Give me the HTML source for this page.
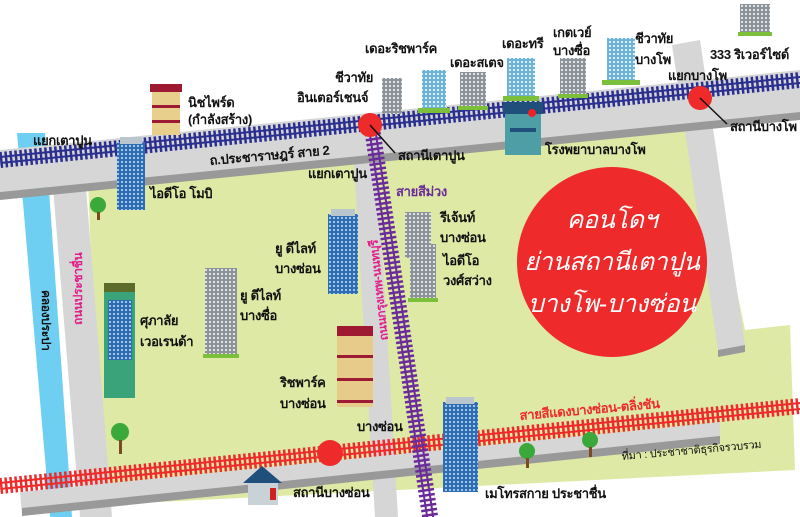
<!DOCTYPE html>
<html><head><meta charset="utf-8">
<style>
html,body{margin:0;padding:0;background:#fff}
svg{display:block}
text{font-family:"Liberation Sans",sans-serif;font-size:13px;fill:#111;font-weight:bold;letter-spacing:-0.3px}
</style></head><body>
<svg width="800" height="517" viewBox="0 0 800 517" xmlns="http://www.w3.org/2000/svg">
<defs>
<pattern id="tb" width="5" height="16" patternUnits="userSpaceOnUse"><rect x="0" y="0" width="2.5" height="16" fill="#2b2f8f"/></pattern>
<pattern id="tr" width="5" height="16" patternUnits="userSpaceOnUse"><rect x="0" y="0" width="2.5" height="16" fill="#ee2a2a"/></pattern>
<pattern id="tp" width="5" height="16" patternUnits="userSpaceOnUse"><rect x="0" y="0" width="2.5" height="16" fill="#6b2c9a"/></pattern>
<pattern id="win" width="4" height="4" patternUnits="userSpaceOnUse"><rect width="4" height="4" fill="#2f6db0"/><rect x="1" y="1" width="2" height="2" fill="#9cc6ee"/></pattern>
<pattern id="wing" width="4" height="4" patternUnits="userSpaceOnUse"><rect width="4" height="4" fill="#8d9499"/><rect x="1" y="1" width="2" height="2" fill="#dfe3e6"/></pattern>
<pattern id="winl" width="4" height="4" patternUnits="userSpaceOnUse"><rect width="4" height="4" fill="#6fb3d8"/><rect x="1" y="1" width="2" height="2" fill="#d7effa"/></pattern>
</defs>

<polygon points="88,178 700,113 745,330 790,325 795,470 100,505" fill="#dde9a4"/>
<polygon points="17,133 45,133 72,517 50,517" fill="#6ecff3"/>
<polygon points="52,175 85,175 112,517 80,517" fill="#d6d6d6"/>
<polygon points="352,130 375,130 398,517 375,517" fill="#d6d6d6"/>
<polygon points="672,45 700,40 745,345 718,350" fill="#d6d6d6"/>
<polygon points="718,350 745,345 745,352 718,357" fill="#9a9a9a"/>
<polygon points="0,150 800,70 800,112 0,192" fill="#d6d6d6"/>
<polygon points="0,192 800,112 800,120 0,200" fill="#999"/>
<polygon points="20,492 720,422 720,442 22,514" fill="#d6d6d6"/>
<polygon points="22,508 720,436 720,444 22,516" fill="#999"/>

<g transform="translate(0,160) rotate(-5.71)">
<rect x="0" y="-8" width="810" height="16" fill="url(#tb)"/>
<rect x="0" y="-4" width="810" height="2" fill="#2b2f8f"/><rect x="0" y="2" width="810" height="2" fill="#2b2f8f"/>
</g>
<g transform="translate(0,486) rotate(-5.71)">
<rect x="0" y="-8" width="810" height="16" fill="url(#tr)"/>
<rect x="0" y="-4" width="810" height="2" fill="#ee2a2a"/><rect x="0" y="2" width="810" height="2" fill="#ee2a2a"/>
</g>
<g transform="translate(372,128) rotate(81.5)">
<rect x="0" y="-8" width="395" height="16" fill="url(#tp)"/>
<rect x="0" y="-4" width="395" height="2" fill="#6b2c9a"/><rect x="0" y="2" width="395" height="2" fill="#6b2c9a"/>
</g>

<circle cx="370" cy="125" r="12" fill="#ee2a2a"/>
<line x1="370" y1="125" x2="395" y2="153" stroke="#111" stroke-width="1.5"/>
<circle cx="700" cy="98" r="12" fill="#ee2a2a"/>
<line x1="700" y1="98" x2="727" y2="124" stroke="#111" stroke-width="1.5"/>
<circle cx="330" cy="453" r="13" fill="#ee2a2a"/>

<circle cx="612" cy="262" r="95" fill="#ee2a2a"/>
<text x="612" y="228" text-anchor="middle" style="font-size:25px;fill:#fff;font-style:italic;font-weight:normal">คอนโดฯ</text>
<text x="612" y="270" text-anchor="middle" style="font-size:25px;fill:#fff;font-style:italic;font-weight:normal">ย่านสถานีเตาปูน</text>
<text x="612" y="312" text-anchor="middle" style="font-size:25px;fill:#fff;font-style:italic;font-weight:normal">บางโพ-บางซ่อน</text>

<g>
<rect x="740" y="4" width="30" height="30" fill="url(#wing)"/><rect x="738" y="32" width="34" height="4" fill="#7cbf3a"/>
<rect x="560" y="58" width="26" height="38" fill="url(#wing)"/><rect x="558" y="94" width="30" height="4" fill="#7cbf3a"/>
<rect x="460" y="72" width="26" height="36" fill="url(#wing)"/><rect x="458" y="106" width="30" height="4" fill="#7cbf3a"/>
<rect x="382" y="78" width="20" height="36" fill="url(#wing)"/>
<rect x="405" y="212" width="26" height="46" fill="url(#wing)"/>
<rect x="410" y="244" width="26" height="56" fill="url(#wing)"/><rect x="408" y="298" width="30" height="4" fill="#7cbf3a"/>
<rect x="205" y="268" width="32" height="88" fill="url(#wing)"/><rect x="203" y="354" width="36" height="4" fill="#7cbf3a"/>
</g>
<g>
<rect x="607" y="38" width="28" height="45" fill="url(#winl)"/><rect x="602" y="80" width="38" height="5" fill="#7cbf3a"/>
<rect x="507" y="58" width="28" height="40" fill="url(#winl)"/><rect x="503" y="96" width="36" height="5" fill="#7cbf3a"/>
<rect x="422" y="70" width="24" height="40" fill="url(#winl)"/><rect x="418" y="108" width="32" height="5" fill="#7cbf3a"/>
</g>
<rect x="117" y="142" width="28" height="68" fill="url(#win)"/><rect x="120" y="137" width="22" height="7" fill="#b9c6ce"/>
<rect x="328" y="214" width="30" height="80" fill="url(#win)"/><rect x="331" y="209" width="24" height="7" fill="#b9c6ce"/>
<rect x="443" y="402" width="35" height="90" fill="url(#win)"/><rect x="446" y="397" width="28" height="7" fill="#b9c6ce"/>
<rect x="505" y="110" width="36" height="45" fill="#4e9ea6"/><rect x="503" y="102" width="40" height="12" fill="#1f4f7a"/><rect x="510" y="128" width="26" height="4" fill="#1f4f7a"/><circle cx="532" cy="113" r="4" fill="#e22"/>
<rect x="152" y="90" width="28" height="45" fill="#e9cf8c"/><rect x="150" y="84" width="32" height="8" fill="#9e1a33"/>
<rect x="152" y="105" width="28" height="3" fill="#9e1a33"/><rect x="152" y="120" width="28" height="3" fill="#9e1a33"/>
<rect x="104" y="290" width="31" height="108" fill="#3aa37a"/><rect x="108" y="300" width="24" height="60" fill="url(#win)"/><rect x="104" y="283" width="31" height="9" fill="#5c6b2a"/>
<rect x="337" y="335" width="36" height="72" fill="#e6cb8a"/><rect x="337" y="326" width="36" height="10" fill="#9e1a33"/>
<rect x="337" y="355" width="36" height="3" fill="#9e1a33"/><rect x="337" y="378" width="36" height="3" fill="#9e1a33"/><rect x="337" y="400" width="36" height="3" fill="#9e1a33"/>
<polygon points="243,483 262,466 282,483" fill="#1f4f7a"/><rect x="248" y="483" width="30" height="22" fill="#c9d2d6"/><rect x="270" y="488" width="6" height="12" fill="#c22"/>
<g fill="#3aa83a"><circle cx="98" cy="205" r="8"/><circle cx="120" cy="432" r="9"/><circle cx="527" cy="451" r="8"/><circle cx="590" cy="440" r="8"/></g>
<g fill="#7a4a20"><rect x="97" y="212" width="3" height="8"/><rect x="119" y="440" width="3" height="14"/><rect x="526" y="458" width="3" height="10"/><rect x="589" y="447" width="3" height="10"/></g>

<text x="365" y="53">เดอะริชพาร์ค</text>
<text x="335" y="82">ชีวาทัย</text>
<text x="297" y="102">อินเตอร์เชนจ์</text>
<text x="188" y="107">นิชไพร์ด</text>
<text x="188" y="124">(กำลังสร้าง)</text>
<text x="33" y="145">แยกเตาปูน</text>
<text x="210" y="165" transform="rotate(-5 210 165)">ถ.ประชาราษฎร์ สาย 2</text>
<text x="398" y="160">สถานีเตาปูน</text>
<text x="308" y="178">แยกเตาปูน</text>
<text x="150" y="198">ไอดีโอ โมบิ</text>
<text x="396" y="196" style="fill:#6b2c9a">สายสีม่วง</text>
<text x="440" y="222">รีเจ้นท์</text>
<text x="440" y="242">บางซ่อน</text>
<text x="443" y="265">ไอดีโอ</text>
<text x="443" y="285">วงศ์สว่าง</text>
<text x="275" y="253">ยู ดีไลท์</text>
<text x="275" y="273">บางซ่อน</text>
<text x="450" y="67">เดอะสเตจ</text>
<text x="502" y="48">เดอะทรี</text>
<text x="553" y="37">เกตเวย์</text>
<text x="553" y="55">บางซื่อ</text>
<text x="635" y="43">ชีวาทัย</text>
<text x="635" y="64">บางโพ</text>
<text x="710" y="59">333 ริเวอร์ไซด์</text>
<text x="668" y="80">แยกบางโพ</text>
<text x="730" y="131">สถานีบางโพ</text>
<text x="545" y="154">โรงพยาบาลบางโพ</text>
<text x="140" y="325">ศุภาลัย</text>
<text x="140" y="346">เวอเรนด้า</text>
<text x="240" y="300">ยู ดีไลท์</text>
<text x="240" y="320">บางซื่อ</text>
<text x="280" y="387">ริชพาร์ค</text>
<text x="280" y="408">บางซ่อน</text>
<text x="357" y="431">บางซ่อน</text>
<text x="293" y="497">สถานีบางซ่อน</text>
<text x="485" y="498">เมโทรสกาย ประชาชื่น</text>
<text x="520" y="420" transform="rotate(-5 520 420)" style="fill:#ee2a2a">สายสีแดงบางซ่อน-ตลิ่งชัน</text>
<text x="622" y="460" transform="rotate(-5 622 460)" style="font-size:11px;font-weight:normal">ที่มา : ประชาชาติธุรกิจรวบรวม</text>
<text x="42" y="290" transform="rotate(90 42 290)" style="font-size:12px">คลองประปา</text>
<text x="82" y="325" transform="rotate(-90 82 325)" style="font-size:12px;fill:#e0218a">ถนนประชาชื่น</text>
<text x="388" y="340" transform="rotate(-96 388 340)" style="font-size:12px;fill:#e0218a">ถนนกรุงเทพ-นนทบุรี</text>
</svg>
</body></html>
